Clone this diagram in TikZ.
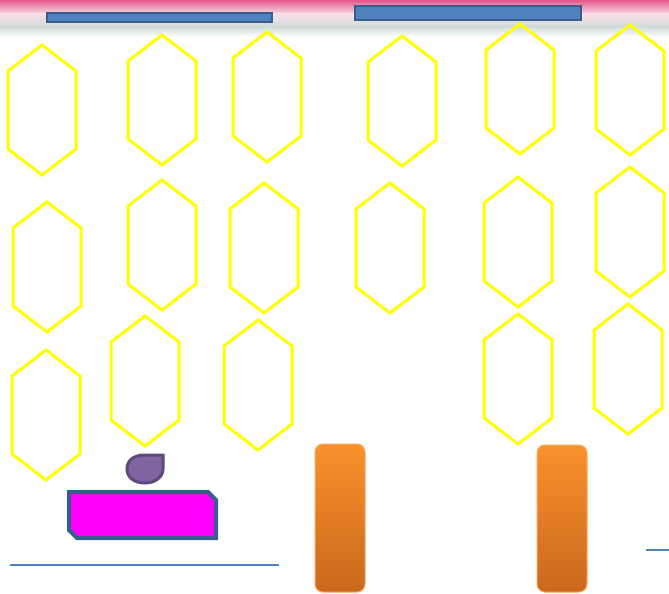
\documentclass[tikz,border=0pt]{standalone}
\usetikzlibrary{positioning}
\definecolor{hexyel}{HTML}{FFFF00}
\definecolor{barblue}{HTML}{4F81BD}
\definecolor{bardark}{HTML}{385D8A}
\definecolor{droppur}{HTML}{8064A2}
\definecolor{dropdark}{HTML}{5F497A}
\definecolor{boxpink}{HTML}{FF00FF}
\definecolor{ortop}{HTML}{F8922D}
\definecolor{orbot}{HTML}{CB681D}
\definecolor{bandpink}{HTML}{E2588A}
\definecolor{bandteal}{HTML}{CFDEDA}
\begin{document}
\begin{tikzpicture}[x=1pt, y=-1pt, line join=miter]
    \tikzset{hexa/.style={draw=hexyel, line width=3pt},
             topbar/.style={draw=bardark, fill=barblue, line width=2.5pt},
             column/.style={draw=ortop!80!white, line width=1pt, rounded corners=8pt, top color=ortop, bottom color=orbot},
             rule/.style={draw=barblue, line width=1.5pt}};
    \useasboundingbox (0,0) rectangle (669,594);
    % decorated band at the top
    \shade[top color=bandpink, bottom color=bandpink!20!white] (0,0) rectangle (669,14);
    \shade[top color=bandpink!20!white, bottom color=bandteal] (0,14) rectangle (669,27);
    \shade[top color=bandteal, bottom color=white] (0,27) rectangle (669,37);
    \draw[topbar] (47,13) rectangle (272,22);
    \draw[topbar] (355,6) rectangle (581,20);
    % hexagons
    \foreach \cx/\cy in {42/110, 162/100, 267/97, 402/101, 520/89, 630/90,
                         47/267, 162/245, 264/248, 390/248, 518/242, 630/232,
                         46/415, 145/381, 258/385, 518/379, 628/369}
      \draw[hexa] (\cx,\cy-65) -- (\cx+34,\cy-39) -- (\cx+34,\cy+39) -- (\cx,\cy+65)
                  -- (\cx-34,\cy+39) -- (\cx-34,\cy-39) -- cycle;
    % drop and box
    \draw[fill=droppur, draw=dropdark, line width=3pt]
      (163,455) -- (163,469) .. controls (163,477) and (155,483) .. (145,483)
      .. controls (134,483) and (127,477) .. (127,469)
      .. controls (127,460) and (134,455) .. (145,455) -- cycle;
    \draw[fill=boxpink, draw=bardark, line width=4pt]
      (69,492) -- (208,492) -- (216,500) -- (216,538) -- (77,538) -- (69,530) -- cycle;
    % orange columns
    \shade[column] (315,444) rectangle (365,592);
    \shade[column] (537,445) rectangle (587,592);
    % rules
    \draw[rule] (10,565) -- (279,565);
    \draw[rule, line width=2.5pt] (646,550) -- (669,550);
\end{tikzpicture}
\end{document}
